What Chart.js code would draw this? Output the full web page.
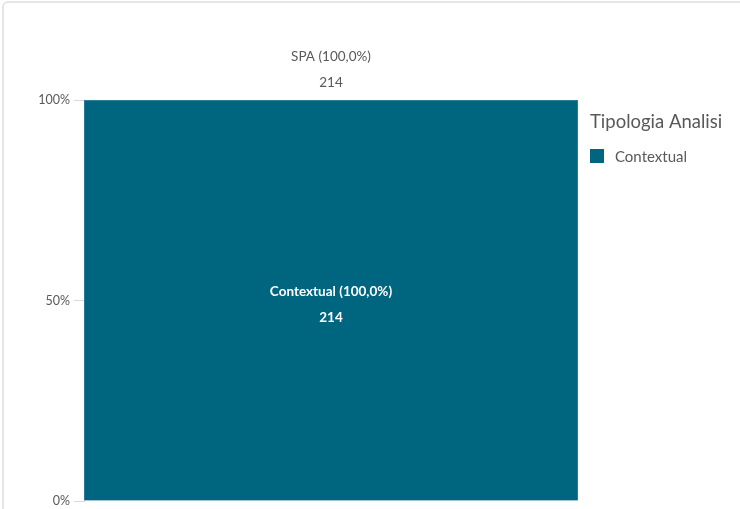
<!DOCTYPE html>
<html>
<head>
<meta charset="utf-8">
<script src="https://cdn.jsdelivr.net/npm/chart.js@4.4.1/dist/chart.umd.min.js"></script>
<style>
  html, body { margin: 0; padding: 0; background: #fff; overflow: hidden; }
  #frame { position: absolute; left: 2px; top: 1px; width: 780px; height: 560px; border: 2px solid #e6e6e6; border-radius: 6px; }
  #wrap { position: absolute; left: 0; top: 0; width: 740px; height: 509px; }
</style>
</head>
<body>
<div id="frame"></div>
<div id="wrap"><canvas id="chart" width="740" height="509"></canvas></div>
<script>
const categories = ['SPA'];
const seriesNames = ['Contextual'];
const seriesValues = [[214]];
const yTicks = [0, 50, 100];
const legendTitle = 'Tipologia Analisi';
const barColor = '#00657f';
const textColor = '#595959';
const fontFamily = 'Lato, "Open Sans", sans-serif';

var totals = categories.map(function (c, i) {
    var t = 0;
    for (var s = 0; s < seriesValues.length; s++) t += seriesValues[s][i];
    return t;
});
function pct(v, t) {
    return (v / t * 100).toFixed(1).replace('.', ',') + '%';
}

const labelPlugin = {
    id: 'labelPlugin',
    afterDatasetsDraw: function (chart) {
        var ctx = chart.ctx;
        ctx.save();
        ctx.textAlign = 'center';
        ctx.textBaseline = 'middle';
        var meta = chart.getDatasetMeta(0);
        for (var i = 0; i < categories.length; i++) {
            var bar = meta.data[i];
            // category total above the bar
            ctx.fillStyle = textColor;
            ctx.font = '13.5px ' + fontFamily;
            ctx.fillText(categories[i] + ' (' + pct(totals[i], totals[i]) + ')', bar.x, chart.chartArea.top - 43);
            ctx.fillText(String(totals[i]), bar.x, chart.chartArea.top - 17);
        }
        for (var s = 0; s < seriesValues.length; s++) {
            var m = chart.getDatasetMeta(s);
            for (var j = 0; j < categories.length; j++) {
                var b = m.data[j];
                var cy = (b.y + b.base) / 2;
                ctx.fillStyle = '#ffffff';
                ctx.font = 'bold 13.5px ' + fontFamily;
                ctx.fillText(seriesNames[s] + ' (' + pct(seriesValues[s][j], totals[j]) + ')', b.x, cy - 9);
                ctx.fillText(String(seriesValues[s][j]), b.x, cy + 17);
            }
        }
        // legend
        var lx = chart.chartArea.right + 12;
        ctx.textAlign = 'left';
        ctx.fillStyle = textColor;
        ctx.font = '18.5px ' + fontFamily;
        ctx.fillText(legendTitle, lx, 122);
        for (var k = 0; k < seriesNames.length; k++) {
            ctx.fillStyle = barColor;
            ctx.fillRect(lx, 149, 14, 14);
            ctx.fillStyle = textColor;
            ctx.font = '15px ' + fontFamily;
            ctx.fillText(seriesNames[k], lx + 25, 157 + k * 22);
        }
        ctx.restore();
    }
};

const datasets = seriesNames.map(function (name, s) {
    return {
        label: name,
        data: seriesValues[s].map(function (v, i) { return v / totals[i] * 100; }),
        backgroundColor: barColor,
        borderColor: '#3c86a0',
        borderWidth: 1,
        barPercentage: 1,
        categoryPercentage: 1
    };
});

const myChart = new Chart(document.getElementById('chart'), {
    type: 'bar',
    data: { labels: categories, datasets: datasets },
    plugins: [labelPlugin],
    options: {
        responsive: false,
        animation: false,
        devicePixelRatio: 1,
        layout: { padding: { top: 100, right: 162, bottom: 8, left: 0 } },
        scales: {
            x: { display: false, stacked: true },
            y: {
                stacked: true,
                min: 0,
                max: 100,
                afterBuildTicks: function (scale) {
                    scale.ticks = yTicks.map(function (v) { return { value: v }; });
                },
                afterFit: function (scale) { scale.width = 84; scale.paddingBottom = 0; },
                border: { display: true, color: '#d9d9d9' },
                grid: { drawOnChartArea: false, drawTicks: true, tickLength: 10, color: '#d9d9d9' },
                ticks: {
                    color: textColor,
                    padding: 4,
                    font: { family: fontFamily, size: 12.5 },
                    callback: function (v) { return v + '%'; }
                }
            }
        },
        plugins: {
            legend: { display: false },
            tooltip: { enabled: false }
        }
    }
});
</script>
</body>
</html>
